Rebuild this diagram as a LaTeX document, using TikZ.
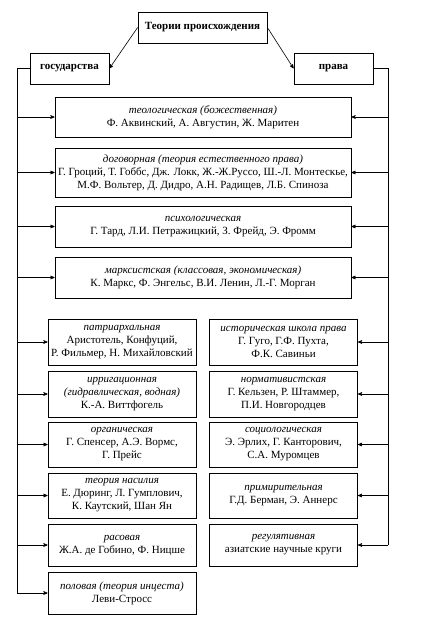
\documentclass[tikz,border=0pt]{standalone}
\usepackage{fontspec}
\setmainfont{Liberation Serif}
\usetikzlibrary{arrows}

\begin{document}
\begin{tikzpicture}[x=1pt,y=-1pt]

  % Style des flèches et des boîtes
  \tikzstyle{fleche} = [->, >=stealth', line width=0.6pt]
  \tikzstyle{trait} = [line width=0.6pt]
  \tikzstyle{boite} = [draw, line width=0.8pt, inner sep=0pt, align=center, font=\fontsize{11}{13}\selectfont]
  \tikzstyle{titre} = [boite, font=\fontsize{11}{13}\selectfont\bfseries]
  \tikzstyle{large} = [boite, minimum width=296, minimum height=41]
  \tikzstyle{colonne} = [boite, minimum width=148, minimum height=45]

  % Boîte englobante du schéma
  \useasboundingbox (0,0) rectangle (424,631);

  % Titre
  \draw (202.5,27.5) node[titre, minimum width=129, minimum height=31] (titre) {Теории происхождения};
  \draw (69.5,68.5) node[titre, minimum width=79, minimum height=31] (etat) {государства};
  \draw (333.5,68.5) node[titre, minimum width=79, minimum height=31] (droit) {права};

  % Théories communes
  \draw (203,117) node[large, minimum height=40] (g1) {\textit{теологическая (божественная)}\\
    Ф. Аквинский, А. Августин, Ж. Маритен};
  \draw (203,172.5) node[large, minimum height=49] (g2) {\textit{договорная (теория естественного права)}\\
    Г. Гроций, Т. Гоббс, Дж. Локк, Ж.-Ж.Руссо, Ш.-Л. Монтескье,\\
    М.Ф. Вольтер, Д. Дидро, А.Н. Радищев, Л.Б. Спиноза};
  \draw (203,226.5) node[large] (g3) {\textit{психологическая}\\
    Г. Тард, Л.И. Петражицкий, З. Фрейд, Э. Фромм};
  \draw (203,277.5) node[large] (g4) {\textit{марксистская (классовая, экономическая)}\\
    К. Маркс, Ф. Энгельс, В.И. Ленин, Л.-Г. Морган};

  % Théories de l'état
  \draw (122,342) node[colonne, minimum height=46] (e1) {\textit{патриархальная}\\
    Аристотель, Конфуций,\\ Р. Фильмер, Н. Михайловский};
  \draw (122,394) node[colonne, minimum height=46] (e2) {\textit{ирригационная}\\
    \textit{(гидравлическая, водная)}\\ К.-А. Виттфогель};
  \draw (122,444.5) node[colonne] (e3) {\textit{органическая}\\
    Г. Спенсер, А.Э. Вормс,\\ Г. Прейс};
  \draw (122,495.5) node[colonne] (e4) {\textit{теория насилия}\\
    Е. Дюринг, Л. Гумплович,\\ К. Каутский, Шан Ян};
  \draw (122,545) node[colonne, minimum height=42] (e5) {\textit{расовая}\\
    Ж.А. де Гобино, Ф. Ницше};
  \draw (122,593) node[colonne, minimum height=42] (e6) {\textit{половая (теория инцеста)}\\
    Леви-Стросс};

  % Théories du droit
  \draw (283.5,342) node[colonne, minimum height=46] (d1) {\textit{историческая школа права}\\
    Г. Гуго, Г.Ф. Пухта,\\ Ф.К. Савиньи};
  \draw (283.5,394) node[colonne, minimum height=46] (d2) {\textit{нормативистская}\\
    Г. Кельзен, Р. Штаммер,\\ П.И. Новгородцев};
  \draw (283.5,444.5) node[colonne] (d3) {\textit{социологическая}\\
    Э. Эрлих, Г. Канторович,\\ С.А. Муромцев};
  \draw (283.5,495.5) node[colonne] (d4) {\textit{примирительная}\\
    Г.Д. Берман, Э. Аннерс};
  \draw (283.5,545) node[colonne, minimum height=42] (d5) {\textit{регулятивная}\\
    азиатские научные круги};

  % Coins des lignes verticales
  \coordinate (ge) at (17,68.5);
  \coordinate (gd) at (388,68.5);

  % Titre -> état, droit
  \draw[fleche] (titre.west) -- (etat.east);
  \draw[fleche] (titre.east) -- (droit.west);

  % Lignes verticales
  \draw[trait] (etat.west) -- (ge) -- (ge |- e6.west);
  \draw[trait] (droit.east) -- (gd) -- (gd |- d5.east);

  % État -> théories
  \draw[fleche] (ge |- g1.west) -- (g1.west);
  \draw[fleche] (ge |- g2.west) -- (g2.west);
  \draw[fleche] (ge |- g3.west) -- (g3.west);
  \draw[fleche] (ge |- g4.west) -- (g4.west);
  \draw[fleche] (ge |- e1.west) -- (e1.west);
  \draw[fleche] (ge |- e2.west) -- (e2.west);
  \draw[fleche] (ge |- e3.west) -- (e3.west);
  \draw[fleche] (ge |- e4.west) -- (e4.west);
  \draw[fleche] (ge |- e5.west) -- (e5.west);
  \draw[fleche] (ge |- e6.west) -- (e6.west);

  % Droit -> théories
  \draw[fleche] (gd |- g1.east) -- (g1.east);
  \draw[fleche] (gd |- g2.east) -- (g2.east);
  \draw[fleche] (gd |- g3.east) -- (g3.east);
  \draw[fleche] (gd |- g4.east) -- (g4.east);
  \draw[fleche] (gd |- d1.east) -- (d1.east);
  \draw[fleche] (gd |- d2.east) -- (d2.east);
  \draw[fleche] (gd |- d3.east) -- (d3.east);
  \draw[fleche] (gd |- d4.east) -- (d4.east);
  \draw[fleche] (gd |- d5.east) -- (d5.east);

\end{tikzpicture}
\end{document}
